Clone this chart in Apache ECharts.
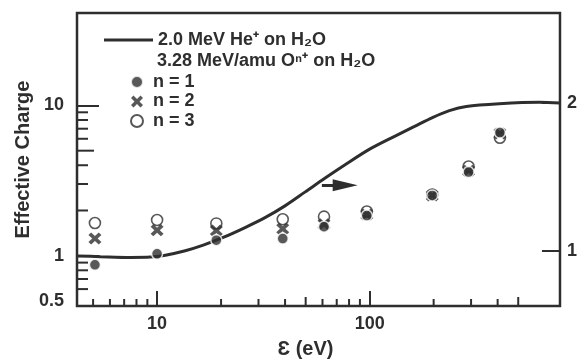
<!DOCTYPE html>
<html>
<head>
<meta charset="utf-8">
<script src="https://cdn.jsdelivr.net/npm/echarts@6/dist/echarts.min.js"></script>
<style>
  html, body { margin: 0; padding: 0; background: #ffffff; }
  #chart { width: 580px; height: 364px; }
</style>
</head>
<body>
<div id="chart"></div>
<script>
// Oxygen ion data: secondary-electron energy (eV) and effective charge per incident charge state
const energy   = [5.1, 10, 19, 39, 61, 97, 197, 292, 410];
const chargeN1 = [0.87, 1.03, 1.27, 1.30, 1.56, 1.85, 2.52, 3.60, 6.60];
const chargeN2 = [1.30, 1.48, 1.47, 1.51, 1.62, 1.88, 2.52, 3.68, 6.50];
const chargeN3 = [1.65, 1.73, 1.64, 1.75, 1.82, 1.97, 2.55, 3.92, 6.10];

// Helium reference curve (right-hand scale)
const heEnergy = [4.2, 5.42, 7.5, 9.3, 10.94, 13.57, 16.49, 20.46, 25.94, 32.19, 39.95, 49.58, 61.52, 76.33, 100, 131, 162.6, 197.4, 237.2, 285, 406.8, 626.6, 786];
const heCharge = [0.965, 0.960, 0.955, 0.957, 0.970, 1.000, 1.038, 1.090, 1.157, 1.224, 1.304, 1.397, 1.491, 1.581, 1.688, 1.775, 1.842, 1.902, 1.949, 1.977, 1.995, 2.005, 2.001];

// Axis ranges and ticks
const xRange = [4.2, 786];
const yRange = [0.463, 41.2];
const yRightRange = [0.626, 2.61];
const xMinorTicks = [5, 6, 7, 8, 9, 20, 30, 40, 50, 60, 70, 80, 90, 200, 300, 400, 500];
const yMinorTicks = [0.6, 0.7, 0.8, 0.9, 2, 3, 4, 5, 6, 7, 8, 9];
const xTickLabels = [10, 100];
const yTickLabels = [1, 10];
const yExtraLabels = [0.5];
const yRightTickLabels = [1, 2];

// Arrow pointing the helium curve to its scale
const arrowEnergies = [59.6, 76.7];
const arrowLevel = 1.443;

const heName = '2.0 MeV He\u207A on H\u2082O';
const oxHeader = '3.28 MeV/amu O\u207F\u207A on H\u2082O';
const n1Name = 'n = 1', n2Name = 'n = 2', n3Name = 'n = 3';

const INK = '#2e2e2e';
const FONT = 'Liberation Sans, Arial, sans-serif';
const crossPath = 'path://M0,2.5 L2.5,0 L6,3.5 L9.5,0 L12,2.5 L8.5,6 L12,9.5 L9.5,12 L6,8.5 L2.5,12 L0,9.5 L3.5,6 Z';

const pairs = (xs, ys) => xs.map((x, i) => [x, ys[i]]);
const near = (v, list) => list.some(t => Math.abs(v - t) < 1e-6 * t);

const chart = echarts.init(document.getElementById('chart'), null, { renderer: 'canvas' });

chart.setOption({
  backgroundColor: '#ffffff',
  animation: false,
  textStyle: { fontFamily: FONT, color: INK },
  grid: {
    left: 77, right: 19, top: 13, bottom: 54,
    show: true, borderColor: INK, borderWidth: 2.5, backgroundColor: 'transparent'
  },
  xAxis: {
    type: 'log', logBase: 10, min: xRange[0], max: xRange[1],
    name: '\u0190 (eV)', nameLocation: 'middle', nameGap: 33,
    nameTextStyle: { fontSize: 20, fontWeight: 'bold', color: INK, padding: [0, 26, 0, 0] },
    axisLine: { show: false },
    axisTick: { show: true, inside: true, length: 15, lineStyle: { color: INK, width: 2 } },
    splitLine: { show: false },
    axisLabel: {
      margin: 9, fontSize: 18, fontWeight: 'bold', color: INK,
      showMinLabel: false, showMaxLabel: false,
      formatter: v => near(v, xTickLabels) ? String(Math.round(v)) : ''
    }
  },
  yAxis: [
    {
      type: 'log', logBase: 10, min: yRange[0], max: yRange[1],
      name: 'Effective Charge', nameLocation: 'middle', nameGap: 44, nameRotate: 90,
      nameTextStyle: { fontSize: 20, fontWeight: 'bold', color: INK },
      axisLine: { show: false },
      axisTick: { show: true, inside: true, length: 22, lineStyle: { color: INK, width: 2 } },
      splitLine: { show: false },
      axisLabel: {
        margin: 13, fontSize: 18, fontWeight: 'bold', color: INK,
        showMinLabel: false, showMaxLabel: false,
        formatter: v => near(v, yTickLabels) ? String(Math.round(v)) : ''
      }
    },
    {
      type: 'value', position: 'right', min: yRightRange[0], max: yRightRange[1],
      splitNumber: 2, minInterval: 1, maxInterval: 1,
      axisLine: { show: false },
      axisTick: { show: true, inside: true, length: 18, lineStyle: { color: INK, width: 2 } },
      splitLine: { show: false },
      axisLabel: {
        margin: 7, fontSize: 18, fontWeight: 'bold', color: INK,
        showMinLabel: false, showMaxLabel: false,
        formatter: v => near(v, yRightTickLabels) ? String(Math.round(v)) : ''
      }
    }
  ],
  legend: [
    {
      data: [{ name: heName, icon: 'rect' }],
      left: 104, top: 31, orient: 'vertical', padding: 0,
      itemWidth: 49, itemHeight: 3,
      textStyle: { fontSize: 18, fontWeight: 'bold', color: INK, fontFamily: FONT },
      selectedMode: false
    },
    {
      data: [n1Name, n2Name, n3Name],
      left: 130, top: 73, orient: 'vertical', padding: 0,
      itemWidth: 22, itemHeight: 12, itemGap: 1.5,
      textStyle: { fontSize: 18, fontWeight: 'bold', color: INK, fontFamily: FONT },
      selectedMode: false
    }
  ],
  graphic: [
    {
      type: 'text', left: 157, top: 52,
      style: { text: oxHeader, font: 'bold 18px ' + FONT, fill: INK }
    }
  ],
  series: [
    {
      name: heName, type: 'line', xAxisIndex: 0, yAxisIndex: 1,
      data: pairs(heEnergy, heCharge),
      smooth: 0.3, showSymbol: false, symbol: 'none',
      lineStyle: { color: INK, width: 3 }, itemStyle: { color: INK },
      z: 2,
      markLine: {
        silent: true, animation: false,
        symbol: ['none', 'triangle'], symbolSize: [12, 25],
        label: { show: false },
        lineStyle: { color: INK, width: 3, type: 'solid' },
        data: [[
          { coord: [arrowEnergies[0], arrowLevel] },
          { coord: [arrowEnergies[1], arrowLevel] }
        ]]
      }
    },
    {
      name: n3Name, type: 'scatter', yAxisIndex: 0,
      data: pairs(energy, chargeN3),
      symbol: 'circle', symbolSize: 11,
      itemStyle: { color: '#ffffff', borderColor: INK, borderWidth: 1.6 },
      z: 3
    },
    {
      name: n2Name, type: 'scatter', yAxisIndex: 0,
      data: pairs(energy, chargeN2),
      symbol: crossPath, symbolSize: [13, 12],
      itemStyle: { color: INK },
      z: 4
    },
    {
      name: n1Name, type: 'scatter', yAxisIndex: 0,
      data: pairs(energy, chargeN1),
      symbol: 'circle', symbolSize: 11,
      itemStyle: { color: INK, borderColor: '#ffffff', borderWidth: 1.5 },
      z: 5
    },
    {
      // minor ticks along the bottom axis
      type: 'custom', xAxisIndex: 0, yAxisIndex: 0, silent: true, z: 6,
      data: xMinorTicks.map(v => [v, 1]),
      renderItem: (params, api) => {
        const v = api.value(0);
        const p = api.coord([v, 1]);
        const cs = params.coordSys;
        const yb = cs.y + cs.height;
        const len = (v === 50 || v === 500) ? 9 : 7;
        return { type: 'line', shape: { x1: p[0], y1: yb, x2: p[0], y2: yb - len },
                 style: { stroke: INK, lineWidth: 2 } };
      }
    },
    {
      // minor ticks along the left axis
      type: 'custom', xAxisIndex: 0, yAxisIndex: 0, silent: true, z: 6,
      data: yMinorTicks.map(v => [10, v]),
      renderItem: (params, api) => {
        const v = api.value(1);
        const p = api.coord([10, v]);
        const cs = params.coordSys;
        const len = v === 5 ? 17 : 11;
        return { type: 'line', shape: { x1: cs.x, y1: p[1], x2: cs.x + len, y2: p[1] },
                 style: { stroke: INK, lineWidth: 2 } };
      }
    },
    {
      // extra left-axis label below 1
      type: 'custom', xAxisIndex: 0, yAxisIndex: 0, silent: true, z: 6,
      data: yExtraLabels.map(v => [10, v]),
      renderItem: (params, api) => {
        const v = api.value(1);
        const p = api.coord([10, v]);
        const cs = params.coordSys;
        return { type: 'text', x: cs.x - 13, y: p[1],
                 style: { text: String(v), font: 'bold 18px ' + FONT, fill: INK,
                          align: 'right', verticalAlign: 'middle' } };
      }
    }
  ]
});
</script>
</body>
</html>
